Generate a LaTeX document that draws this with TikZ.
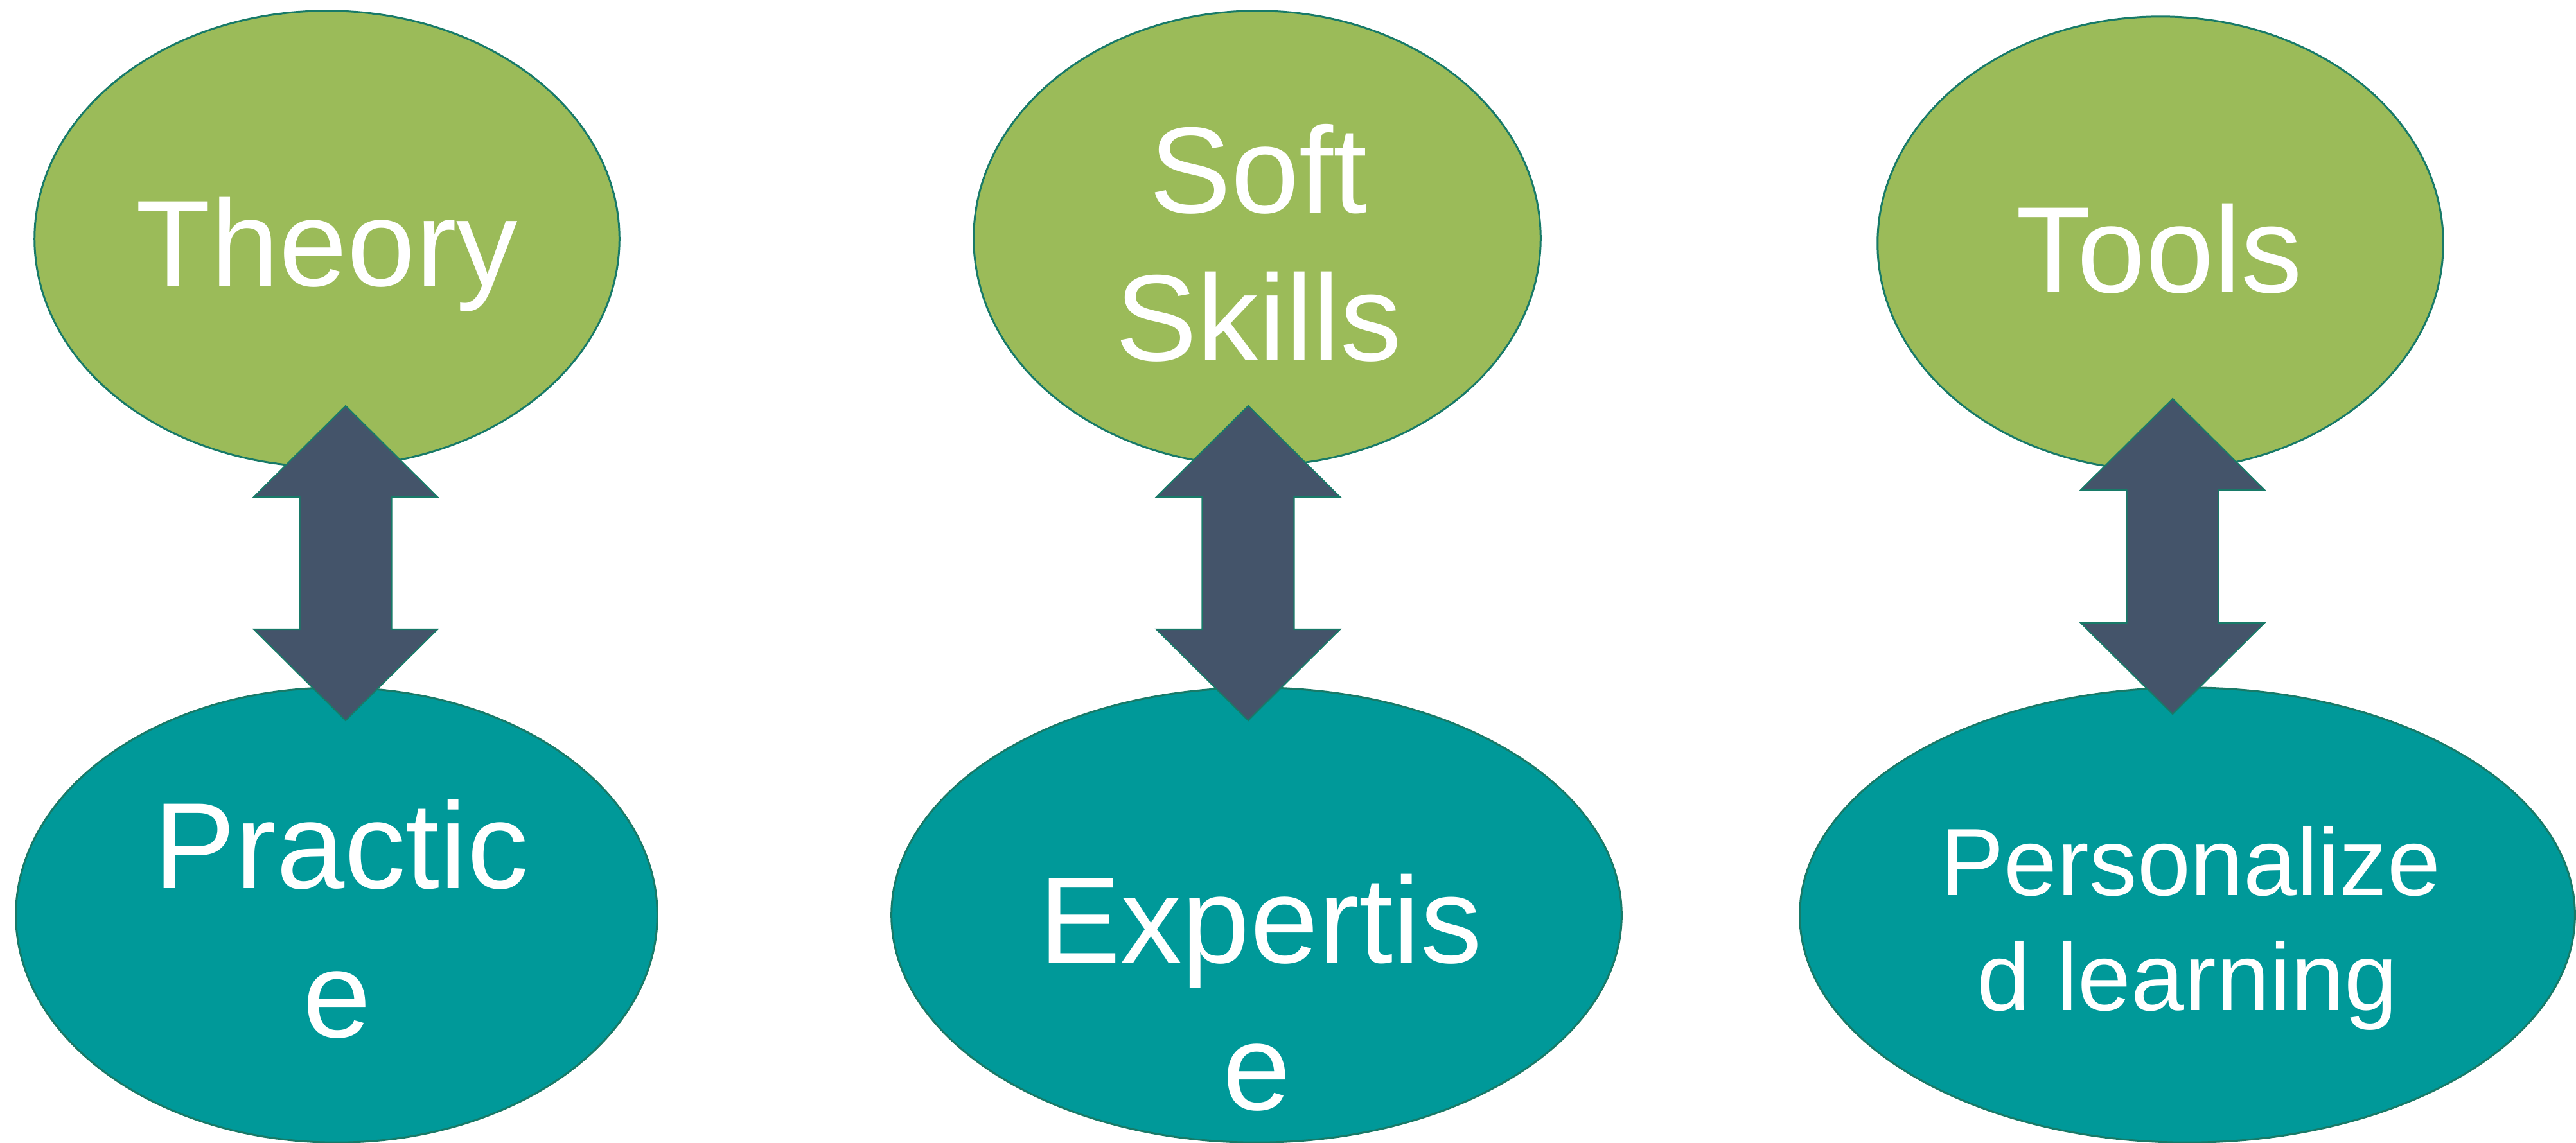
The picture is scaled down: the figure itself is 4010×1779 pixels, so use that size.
\documentclass[tikz,border=0pt]{standalone}
\usepackage{fontspec}
\setmainfont{Liberation Sans}
\usetikzlibrary{shapes.geometric,calc}
\definecolor{ovgreen}{HTML}{9BBB59}
\definecolor{ovteal}{HTML}{009999}
\definecolor{arrowslate}{HTML}{44546A}
\definecolor{edgeteal}{HTML}{187A68}
\newcommand\blockarrow[2]{%
  \draw[dblarrow] (#1) -- ++(143,142) -- ++(-71.5,0)
    -- ($(#2)+(71.5,-142)$) -- ++(71.5,0) -- (#2) -- ++(-143,-142) -- ++(71.5,0)
    -- ($(#1)+(-71.5,142)$) -- ++(-71.5,0) -- cycle;}
\begin{document}
\begin{tikzpicture}[x=0.01cm,y=-0.01cm,
  oval/.style={ellipse, draw=edgeteal, line width=0.85pt, inner sep=0pt},
  topoval/.style={oval, fill=ovgreen},
  botoval/.style={oval, fill=ovteal},
  bigtxt/.style={anchor=base, text=white, inner sep=0pt, font=\fontsize{54.3}{66}\selectfont},
  smalltxt/.style={anchor=base, text=white, inner sep=0pt, font=\fontsize{42.4}{51}\selectfont},
  dblarrow/.style={fill=arrowslate, draw=edgeteal, line width=0.6pt, line join=miter}]
\useasboundingbox (0,0) rectangle (4010,1779);
\clip (0,0) rectangle (4010,1779);

% ellipses
\node[topoval, minimum width=9.10cm, minimum height=7.10cm] (theory) at (509,372) {};
\node[topoval, minimum width=8.82cm, minimum height=7.08cm] (soft) at (1957,371) {};
\node[topoval, minimum width=8.80cm, minimum height=7.06cm] (tools) at (3363,379) {};
\node[botoval, minimum width=9.98cm, minimum height=7.08cm] (practice) at (524,1425) {};
\node[botoval, minimum width=11.36cm, minimum height=7.08cm] (expertise) at (1956,1425) {};
\node[botoval, minimum width=12.06cm, minimum height=7.08cm] (personal) at (3405,1425) {};

% labels
\node[bigtxt] (theoryT) at (509,445) {Theory};
\node[bigtxt] (softT1) at (1959,331) {Soft};
\node[bigtxt] (softT2) at (1959,561) {Skills};
\node[bigtxt] (toolsT) at (3361,455) {Tools};
\node[bigtxt] (practT1) at (531,1383) {Practic};
\node[bigtxt] (practT2) at (525,1615) {e};
\node[bigtxt] (expT1) at (1962,1499) {Expertis};
\node[bigtxt] (expT2) at (1957,1728) {e};
\node[smalltxt] (persT1) at (3410,1394) {Personalize};
\node[smalltxt] (persT2) at (3405,1573) {d learning};

% double arrows
\coordinate (a1top) at (538,632);
\coordinate (a1bot) at (538,1122);
\coordinate (a2top) at (1943,632);
\coordinate (a2bot) at (1943,1122);
\coordinate (a3top) at (3382,621);
\coordinate (a3bot) at (3382,1112);
\blockarrow{a1top}{a1bot}
\blockarrow{a2top}{a2bot}
\blockarrow{a3top}{a3bot}
\end{tikzpicture}
\end{document}
